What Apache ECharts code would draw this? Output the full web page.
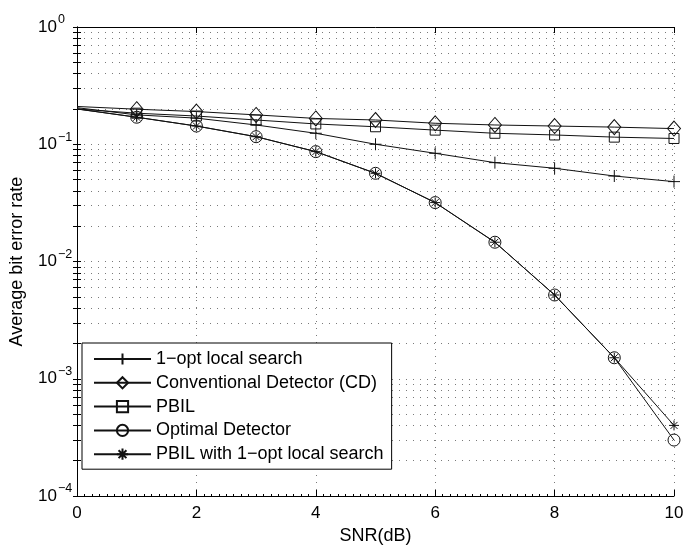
<!DOCTYPE html>
<html><head><meta charset="utf-8">
<script src="https://cdn.jsdelivr.net/npm/echarts@6/dist/echarts.min.js"></script>
<style>html,body{margin:0;padding:0;background:#fff}#c{width:685px;height:545px}</style>
</head><body><div id="c"></div>
<script>
const snr = [0,1,2,3,4,5,6,7,8,9,10];
const oneOpt  = [0.205,0.178,0.167,0.146,0.124,0.100,0.0837,0.0697,0.0624,0.0536,0.048];
const cd      = [0.210,0.199,0.190,0.178,0.166,0.161,0.151,0.146,0.143,0.140,0.136];
const pbil    = [0.200,0.184,0.174,0.161,0.149,0.141,0.132,0.124,0.120,0.115,0.112];
const optimal = [0.200,0.170,0.143,0.116,0.0865,0.0565,0.0318,0.0146,0.00518,0.00151,0.00030];
const pbilOpt = [0.200,0.170,0.143,0.116,0.0865,0.0565,0.0318,0.0146,0.00518,0.00151,0.00040];
const names = ['1\u2212opt local search','Conventional Detector (CD)','PBIL','Optimal Detector','PBIL with 1\u2212opt local search'];
const xTicks = [0,2,4,6,8,10];
const yMajor = [1e-4,1e-3,1e-2,1e-1,1];
const yExp = ['\u22124','\u22123','\u22122','\u22121','0'];
const yMinor = [2e-4,3e-4,4e-4,5e-4,6e-4,7e-4,8e-4,9e-4,
                2e-3,3e-3,4e-3,5e-3,6e-3,7e-3,8e-3,9e-3,
                2e-2,3e-2,4e-2,5e-2,6e-2,7e-2,8e-2,9e-2,
                0.2,0.3,0.4,0.5,0.6,0.7,0.8,0.9];
const yAll = yMajor.concat(yMinor).sort((a,b)=>a-b);

const FONT = 'Liberation Sans, Arial, Helvetica, sans-serif';
const plusPath = 'path://M0,5L10,5M5,0L5,10';
const starPath = 'path://M0,5L10,5M5,0L5,10M1.5,1.5L8.5,8.5M1.5,8.5L8.5,1.5';
const syms = [
  {s: plusPath, size: 12},
  {s: 'diamond', size: [13,15]},
  {s: 'rect', size: 10},
  {s: 'circle', size: 12},
  {s: starPath, size: 10}
];
const vals = [oneOpt, cd, pbil, optimal, pbilOpt];

const gridDot = {show:true, lineStyle:{color:'#7a7a7a', width:1, type:[1,6]}};

const series = vals.map((arr, i) => ({
  name: names[i],
  type: 'line',
  data: arr.map((v, j) => j === 0 ? {value:[snr[j], v], symbol:'none'} : [snr[j], v]),
  symbol: syms[i].s,
  symbolSize: syms[i].size,
  showAllSymbol: true,
  lineStyle: {color:'#111', width:1},
  itemStyle: {color:'rgba(255,255,255,0)', borderColor:'#111', borderWidth:1},
  emphasis: {disabled:true},
  animation: false,
  z: 3 + i
}));

const chart = echarts.init(document.getElementById('c'), null, {renderer:'canvas'});
chart.setOption({
  animation: false,
  backgroundColor: '#fff',
  grid: {left:77, right:11, top:27, bottom:49, containLabel:false, outerBoundsMode:'none'},
  xAxis: [{
    type:'value', min:0, max:10, interval:2,
    name:'SNR(dB)', nameLocation:'middle', nameGap:30,
    nameTextStyle:{fontFamily:FONT, fontSize:18, color:'#000'},
    axisLine:{show:true, lineStyle:{color:'#000', width:1}},
    axisTick:{show:true, inside:true, length:6, lineStyle:{color:'#000'}},
    minorTick:{show:true, splitNumber:16, length:2, lineStyle:{color:'#000'}},
    axisLabel:{fontFamily:FONT, fontSize:17, color:'#000', margin:9},
    splitLine: gridDot
  },{
    type:'value', min:0, max:10, interval:2, position:'top',
    axisLine:{show:true, lineStyle:{color:'#000', width:1}},
    axisTick:{show:true, inside:true, length:6, lineStyle:{color:'#000'}},
    axisLabel:{show:false}, splitLine:{show:false}
  }],
  yAxis: [{
    type:'log', logBase:10, min:1e-4, max:1,
    name:'Average bit error rate', nameLocation:'middle', nameGap:51,
    nameTextStyle:{fontFamily:FONT, fontSize:18, color:'#000'},
    axisLine:{show:true, lineStyle:{color:'#000', width:1}},
    axisTick:{show:true, inside:true, length:4, customValues: yAll, lineStyle:{color:'#000'}},
    axisLabel:{
      customValues: yMajor, align:'left', margin:39,
      formatter: function(v){
        let idx = 0, best = Infinity;
        yMajor.forEach((m,k)=>{ const d = Math.abs(Math.log(m)-Math.log(v)); if(d<best){best=d; idx=k;} });
        return '{b|10}{s|' + yExp[idx] + '}';
      },
      rich:{
        b:{fontFamily:FONT, fontSize:17, color:'#000', verticalAlign:'bottom', lineHeight:17},
        s:{fontFamily:FONT, fontSize:12.5, color:'#000', verticalAlign:'bottom', lineHeight:12, padding:[0,0,9,1]}
      }
    },
    splitLine: gridDot
  },{
    type:'log', logBase:10, min:1e-4, max:1, position:'right',
    axisLine:{show:true, lineStyle:{color:'#000', width:1}},
    axisTick:{show:true, inside:true, length:4, customValues: yAll, lineStyle:{color:'#000'}},
    axisLabel:{show:false}, splitLine:{show:false}
  }],
  legend: {
    orient:'vertical', left:82, top:343,
    padding:[7,8,6,11],
    itemWidth:57, itemHeight:14, itemGap:5.8,
    backgroundColor:'#fff', borderColor:'#000', borderWidth:1, borderRadius:0,
    textStyle:{fontFamily:FONT, fontSize:18, color:'#000'},
    data: names,
    selectedMode:false
  },
  series: series
});
</script></body></html>
